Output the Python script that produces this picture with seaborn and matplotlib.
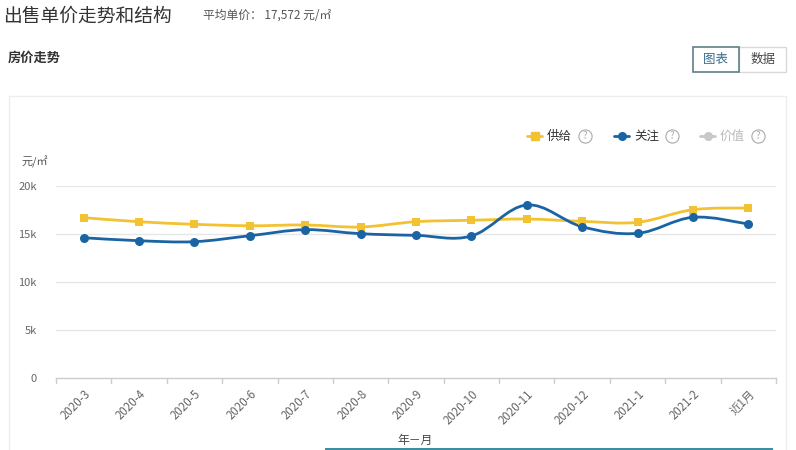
import numpy as np
import pandas as pd
import matplotlib
matplotlib.use("Agg")
import matplotlib.pyplot as plt
from matplotlib.path import Path
from matplotlib.patches import PathPatch, Rectangle
from matplotlib.lines import Line2D
import seaborn as sns

months = ["2020-3", "2020-4", "2020-5", "2020-6", "2020-7", "2020-8", "2020-9",
          "2020-10", "2020-11", "2020-12", "2021-1", "2021-2", "近1月"]
supply = [16700, 16280, 16010, 15860, 15940, 15730, 16280,
          16430, 16560, 16320, 16220, 17530, 17710]
attention = [14610, 14300, 14200, 14820, 15450, 15030, 14860,
             14790, 18020, 15760, 15070, 16740, 16040]
yticks = [0, 5000, 10000, 15000, 20000]
ytick_labels = ["0", "5k", "10k", "15k", "20k"]

YELLOW = "#f3c232"
BLUE = "#1b64a3"
GRAY = "#c8c8c8"

sns.set_theme(style="white")
plt.rcParams["font.family"] = ["Noto Sans CJK SC", "DejaVu Sans"]

W, H = 796, 450
fig = plt.figure(figsize=(W / 100, H / 100), dpi=100)
fig.patch.set_facecolor("white")

def fx(px):
    return px / W

def fy(py):
    return 1 - py / H

# panel border
fig.add_artist(Rectangle((fx(9), fy(470)), fx(777), (470 - 96) / H,
                         transform=fig.transFigure, fill=False,
                         edgecolor="#eeeeee", lw=1.0))

# header texts
fig.text(fx(3), fy(16), "出售单价走势和结构", fontsize=13.5, color="#333333", va="center")
fig.text(fx(203), fy(15), "平均单价： 17,572 元/㎡", fontsize=8.5, color="#555555", va="center")
fig.text(fx(8), fy(58), "房价走势", fontsize=9.5, color="#333333", va="center", fontweight="bold")

# buttons
fig.add_artist(Rectangle((fx(739), fy(72)), fx(47), 25 / H, transform=fig.transFigure,
                         fill=True, facecolor="white", edgecolor="#d9d9d9", lw=1))
fig.add_artist(Rectangle((fx(693), fy(72)), fx(46), 25 / H, transform=fig.transFigure,
                         fill=True, facecolor="white", edgecolor="#5f7f88", lw=1.2))
fig.text(fx(716), fy(59.5), "图表", fontsize=9, color="#3a6c8a", ha="center", va="center")
fig.text(fx(763), fy(59.5), "数据", fontsize=9, color="#444444", ha="center", va="center")

# main axes
x0, x1 = 56, 776
ytop, ybot = 186, 378
ax = fig.add_axes([fx(x0), fy(ybot), fx(x1 - x0), (ybot - ytop) / H])

df = pd.DataFrame({"month": months, "供给": supply, "关注": attention})
df["idx"] = np.arange(len(months))

def smooth_path(xs, ys, s=0.35):
    xs = np.asarray(xs, float)
    ys = np.asarray(ys, float)
    n = len(xs)
    verts = [(xs[0], ys[0])]
    codes = [Path.MOVETO]
    for i in range(n - 1):
        p0 = (xs[max(i - 1, 0)], ys[max(i - 1, 0)])
        p1 = (xs[i], ys[i])
        p2 = (xs[i + 1], ys[i + 1])
        p3 = (xs[min(i + 2, n - 1)], ys[min(i + 2, n - 1)])
        c1 = (p1[0] + (p2[0] - p0[0]) * s * 0.5, p1[1] + (p2[1] - p0[1]) * s * 0.5)
        c2 = (p2[0] - (p3[0] - p1[0]) * s * 0.5, p2[1] - (p3[1] - p1[1]) * s * 0.5)
        verts += [c1, c2, p2]
        codes += [Path.CURVE4] * 3
    return Path(verts, codes)

for col, color, marker, ms in [("供给", YELLOW, "s", 6), ("关注", BLUE, "o", 6.5)]:
    ax.add_patch(PathPatch(smooth_path(df["idx"], df[col]), fill=False,
                           edgecolor=color, lw=2, zorder=3))
    sns.scatterplot(data=df, x="idx", y=col, ax=ax, color=color, marker=marker,
                    s=ms ** 2, edgecolor=color, linewidth=0, zorder=4, legend=False)

ax.set_xlim(-0.5, len(months) - 0.5)
ax.set_ylim(0, 20000)
ax.set_yticks(yticks)
ax.set_yticklabels(ytick_labels, fontsize=8, color="#666666")
ax.set_xticks(np.arange(len(months)))
ax.set_xticklabels(months, rotation=45, ha="right", rotation_mode="anchor",
                   fontsize=8.3, color="#666666")
ax.tick_params(axis="x", length=0, pad=7)
ax.tick_params(axis="y", length=0, pad=14)
ax.set_xlabel("")
ax.set_ylabel("")
for y in yticks[1:]:
    ax.axhline(y, color="#e6e6e6", lw=1, zorder=1)
for sp in ["top", "right", "left"]:
    ax.spines[sp].set_visible(False)
ax.spines["bottom"].set_color("#cccccc")
ax.spines["bottom"].set_linewidth(1)
for b in np.arange(len(months) + 1) - 0.5:
    ax.plot([b, b], [0, -550], color="#cccccc", lw=1, clip_on=False, zorder=2)
ax.set_facecolor("none")

# axis titles
fig.text(fx(22), fy(162), "元/㎡", fontsize=8, color="#555555", va="center")
fig.text(fx(415), fy(440), "年－月", fontsize=8.5, color="#444444", ha="center", va="center")

# legend
legend_items = [(527, "供给", YELLOW, "s", "#333333"),
                (614, "关注", BLUE, "o", "#333333"),
                (700, "价值", GRAY, "o", "#bbbbbb")]
ly = fy(136)
for lx, label, color, marker, tcolor in legend_items:
    fig.add_artist(Line2D([fx(lx), fx(lx + 15)], [ly, ly], transform=fig.transFigure,
                          color=color, lw=2))
    fig.add_artist(Line2D([fx(lx + 7.5)], [ly], transform=fig.transFigure, color=color,
                          marker=marker, markersize=5.5, linestyle="none"))
    fig.text(fx(lx + 20), ly, label, fontsize=9, color=tcolor, va="center")
    qx = lx + 58
    fig.add_artist(Line2D([fx(qx)], [ly], transform=fig.transFigure, marker="o",
                          markersize=9.5, markerfacecolor="none",
                          markeredgecolor="#aaaaaa", markeredgewidth=0.8,
                          linestyle="none"))
    fig.text(fx(qx), ly, "?", fontsize=7, color="#aaaaaa", ha="center", va="center")

# bottom teal bar
fig.add_artist(Rectangle((fx(325), 0), fx(448), 2.5 / H, transform=fig.transFigure,
                         facecolor="#3b8fa0", edgecolor="none"))

fig.savefig("out.png", dpi=100, facecolor="white")
